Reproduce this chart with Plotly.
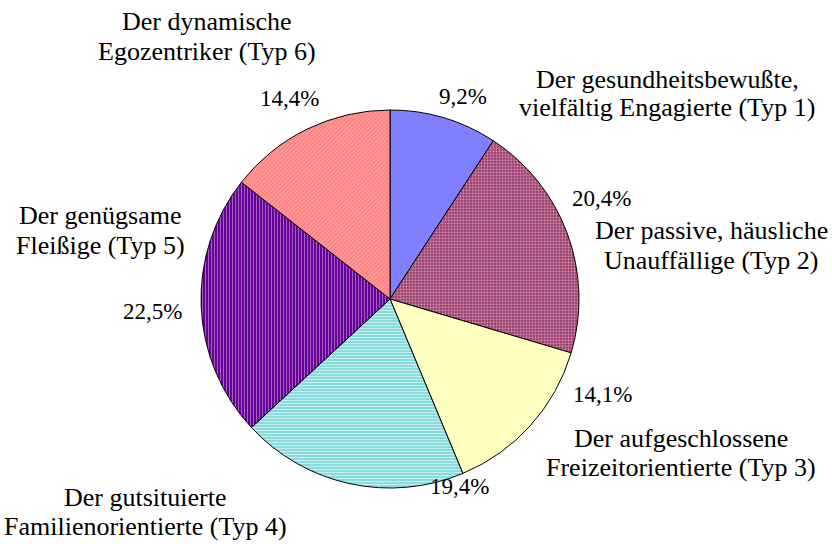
import plotly.graph_objects as go

label_lines = [
    ["Der gesundheitsbewußte,", "vielfältig Engagierte (Typ 1)"],
    ["Der passive, häusliche", "Unauffällige (Typ 2)"],
    ["Der aufgeschlossene", "Freizeitorientierte (Typ 3)"],
    ["Der gutsituierte", "Familienorientierte (Typ 4)"],
    ["Der genügsame", "Fleißige (Typ 5)"],
    ["Der dynamische", "Egozentriker (Typ 6)"],
]
categories = [" ".join(l) for l in label_lines]
values = [9.2, 20.4, 14.1, 19.4, 22.5, 14.4]

bg_colors = ["#8080FF", "#993366", "#FFFFC0", "#8ADCDC", "#660099", "#FF8080"]
pat_shapes = ["", ".", "", "-", "|", "/"]
pat_fg = ["#8080FF", "#F6E8F0", "#FFFFC0", "#FFFFFF", "#E8D8F0", "#FFD6D6"]
pat_solidity = [0.3, 0.45, 0.3, 0.35, 0.3, 0.3]

W, H = 832, 544
FONT = "Times New Roman"
LABEL_SIZE = 26
PCT_SIZE = 23
LINE_GAP = 29

# label positions: (x centre, y centre of first line) in window pixels
label_pos = [(667, 79), (711, 231), (681, 438), (145, 497), (100, 216), (207, 22)]
pct_pos = [(463, 96), (601, 199), (602, 394), (459, 486), (152, 311), (289, 98)]


def px(x, y):
    return x / W, 1 - y / H


fig = go.Figure(go.Pie(
    labels=categories,
    values=values,
    sort=False,
    direction="clockwise",
    rotation=0,
    textinfo="none",
    hoverinfo="label+percent",
    showlegend=False,
    marker=dict(
        colors=bg_colors,
        line=dict(color="#000000", width=1),
        pattern=dict(shape=pat_shapes, fgcolor=pat_fg, size=3,
                     solidity=pat_solidity, fillmode="overlay"),
    ),
    domain=dict(x=[201 / W, 579 / W], y=[1 - 488 / H, 1 - 110 / H]),
))

annotations = []
for lines, (x, y) in zip(label_lines, label_pos):
    for i, line in enumerate(lines):
        ax, ay = px(x, y + i * LINE_GAP)
        annotations.append(dict(text=line, x=ax, y=ay, xref="paper", yref="paper",
                                showarrow=False, xanchor="center", yanchor="middle",
                                font=dict(family=FONT, size=LABEL_SIZE, color="#000000")))
for v, (x, y) in zip(values, pct_pos):
    ax, ay = px(x, y)
    annotations.append(dict(text=f"{v:.1f}%".replace(".", ","), x=ax, y=ay,
                            xref="paper", yref="paper", showarrow=False,
                            xanchor="center", yanchor="middle",
                            font=dict(family=FONT, size=PCT_SIZE, color="#000000")))

fig.update_layout(
    width=W, height=H,
    margin=dict(l=0, r=0, t=0, b=0),
    paper_bgcolor="#FFFFFF",
    plot_bgcolor="#FFFFFF",
    font=dict(family=FONT, size=LABEL_SIZE, color="#000000"),
    annotations=annotations,
)

fig.write_html(
    "out.html",
    config={"displayModeBar": False},
    post_script="document.body.style.margin='0';document.body.style.overflow='hidden';",
)
